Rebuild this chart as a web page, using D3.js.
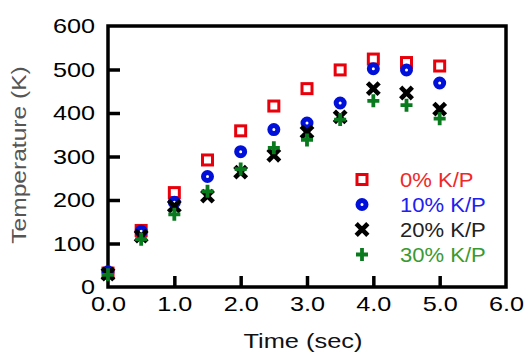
<!DOCTYPE html>
<html><head><meta charset="utf-8">
<script src="https://cdn.jsdelivr.net/npm/d3@7"></script>
<style>body{margin:0;background:#fff}</style>
</head><body>
<svg id="c" width="525" height="352"></svg>
<script>
const times = [0, 0.5, 1.0, 1.5, 2.0, 2.5, 3.0, 3.5, 4.0, 4.5, 5.0];
const kp0  = [32, 130, 217, 292, 359, 416, 456, 499, 524, 516, 508];
const kp10 = [35, 128, 195, 254, 311, 362, 377, 423, 502, 499, 469];
const kp20 = [30, 117, 186, 209, 264, 303, 356, 391, 456, 446, 409];
const kp30 = [28, 110, 167, 220, 271, 320, 338, 385, 428, 418, 387];
const seriesNames = ["0% K/P", "10% K/P", "20% K/P", "30% K/P"];
const xTicks = [0, 1, 2, 3, 4, 5, 6];
const yTicks = [0, 100, 200, 300, 400, 500, 600];

const svg = d3.select("#c");
const L = 108, R = 506, T = 26, B = 287;
const x = d3.scaleLinear().domain([0, 6]).range([L, R]);
const y = d3.scaleLinear().domain([0, 600]).range([B, T]);
const FONT = "'Liberation Sans', Arial, sans-serif";

function stretch(sel, k) {
  sel.each(function () {
    const len = this.getComputedTextLength();
    d3.select(this).attr("textLength", len * k).attr("lengthAdjust", "spacingAndGlyphs");
  });
}

// axes
const gy = svg.append("g").attr("transform", `translate(${L},0)`)
  .call(d3.axisLeft(y).tickValues(yTicks).tickSize(-12).tickPadding(13));
const gx = svg.append("g").attr("transform", `translate(0,${B})`)
  .call(d3.axisBottom(x).tickValues(xTicks).tickSize(-11).tickPadding(9).tickFormat(d3.format(".1f")));
[gy, gx].forEach(g => {
  g.select(".domain").remove();
  g.selectAll(".tick line").attr("stroke", "#000").attr("stroke-width", 3.5);
  g.selectAll("text").attr("font-family", FONT).attr("font-size", 21).attr("fill", "#000");
});
gy.selectAll(".tick").filter(d => d === 0 || d === 600).select("line").remove();
gx.selectAll(".tick").filter(d => d === 0 || d === 6).select("line").remove();
stretch(gy.selectAll("text"), 1.2);
stretch(gx.selectAll("text"), 1.2);

// frame
svg.append("rect").attr("x", L).attr("y", T).attr("width", R - L).attr("height", B - T)
  .attr("fill", "none").attr("stroke", "#000").attr("stroke-width", 3.5);

// marker makers
const colors = ["#e8000b", "#0010d8", "#000000", "#0a7a1e"];
function marker(g, type, cx, cy) {
  if (type === 0) {
    g.append("rect").attr("x", cx - 5).attr("y", cy - 5).attr("width", 10).attr("height", 10)
      .attr("fill", "#fff").attr("stroke", colors[0]).attr("stroke-width", 3);
  } else if (type === 1) {
    g.append("circle").attr("cx", cx).attr("cy", cy).attr("r", 4)
      .attr("fill", "#fff").attr("stroke", colors[1]).attr("stroke-width", 5);
  } else if (type === 2) {
    g.append("path").attr("d", `M${cx-4.2},${cy-4.2}L${cx+4.2},${cy+4.2}M${cx+4.2},${cy-4.2}L${cx-4.2},${cy+4.2}`)
      .attr("stroke", colors[2]).attr("stroke-width", 4.6).attr("stroke-linecap", "square").attr("fill", "none");
  } else {
    g.append("path").attr("d", `M${cx-6},${cy}L${cx+6},${cy}M${cx},${cy-6.5}L${cx},${cy+6.5}`)
      .attr("stroke", colors[3]).attr("stroke-width", 3.8).attr("fill", "none");
  }
}

const series = [kp0, kp10, kp20, kp30];
series.forEach((vals, si) => {
  const g = svg.append("g");
  vals.forEach((v, i) => marker(g, si, x(times[i]), y(v)));
});

// legend
const legText = ["#f02828", "#2020f0", "#222222", "#3a9a30"];
const leg = svg.append("g");
seriesNames.forEach((name, i) => {
  const cy = 179.5 + i * 25;
  marker(leg, i, 362, cy);
  leg.append("text").attr("x", 400).attr("y", cy).attr("dy", "0.36em")
    .attr("font-family", FONT).attr("font-size", 19.5).attr("fill", legText[i]).text(name);
});
stretch(leg.selectAll("text"), 1.13);

// axis titles
const xt = svg.append("text").attr("x", 303).attr("y", 348).attr("text-anchor", "middle")
  .attr("font-family", FONT).attr("font-size", 21).attr("fill", "#111").text("Time (sec)");
stretch(xt, 1.21);
const yt = svg.append("text").attr("transform", "translate(26,155) rotate(-90)").attr("text-anchor", "middle")
  .attr("font-family", FONT).attr("font-size", 21).attr("fill", "#555").text("Temperature (K)");
stretch(yt, 1.17);
</script>
</body></html>
